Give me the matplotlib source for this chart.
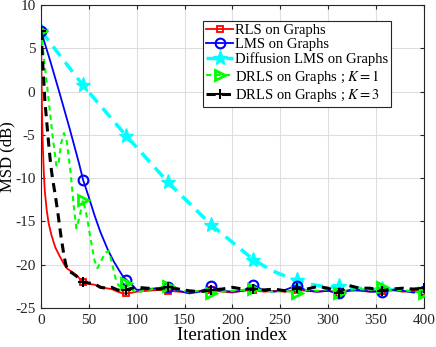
import numpy as np
import matplotlib
matplotlib.use('Agg')
import matplotlib.pyplot as plt

plt.rcParams['font.family'] = ['Liberation Serif', 'DejaVu Serif']
plt.rcParams['mathtext.fontset'] = 'stix'
plt.rcParams['axes.unicode_minus'] = False

# iteration indices where markers are drawn
marks = [0, 44, 89, 133, 178, 222, 267, 311, 356, 400]

# common tail (noise floor) iterations
t_floor = [100, 111, 122, 133, 144, 155, 166, 178, 189, 200, 211, 222, 233, 244,
           255, 267, 278, 289, 300, 311, 322, 333, 344, 356, 367, 378, 389, 400]

# RLS on Graphs
t_rls = [0, 1, 2, 3, 4, 6, 8, 11, 15, 20, 24, 27, 32, 37, 44, 50, 56, 62, 68, 74, 80, 86, 89, 96]
v_rls = [7, -2, -6.5, -9.5, -11.5, -13.7, -15.2, -16.6, -18, -19.1, -19.9, -20.4, -20.8, -21.2,
         -22.0, -22.2, -22.3, -22.5, -22.7, -22.8, -23.1, -23.3, -23.3, -23.2]
f_rls = [-23.1, -23.0, -22.9, -23.0, -23.1, -23.2, -23.0, -22.9, -23.1, -23.2, -23.0, -22.9, -23.1, -23.0,
         -23.1, -22.9, -23.0, -23.1, -23.0, -23.2, -22.9, -23.0, -23.1, -23.0, -22.9, -23.1, -23.0, -23.1]

# LMS on Graphs
t_lms = [0, 10, 20, 30, 40, 44, 50, 56, 62, 70, 76, 82, 86, 89, 96]
v_lms = [7, 3.4, -0.4, -4.3, -8.4, -10.2, -12.2, -14.3, -16.2, -18.3, -19.6, -20.7, -21.4, -21.7, -22.4]
f_lms = [-22.9, -22.8, -22.7, -22.6, -23.0, -23.3, -23.1, -22.5, -23.0, -23.1, -23.0, -22.3, -23.0, -23.1,
         -22.9, -22.4, -23.0, -23.1, -23.0, -23.3, -23.0, -22.9, -23.1, -23.1, -22.9, -23.0, -23.2, -23.0]

# Diffusion LMS on Graphs
t_dif = [0, 44, 89, 133, 178, 222, 240, 255, 267, 280, 290, 300, 311,
         322, 333, 344, 356, 367, 378, 389, 400]
v_dif = [7, 0.7, -5.1, -10.5, -15.4, -19.4, -20.6, -21.3, -21.8, -22.2, -22.4, -22.6, -22.5,
         -22.8, -22.7, -22.9, -22.8, -22.9, -22.7, -23.0, -23.0]

# DRLS on Graphs ; K = 1
t_k1 = [0, 4, 8, 12, 16, 18, 21, 24, 27, 31, 34, 37, 40, 44, 48, 52, 56, 59, 63, 67, 71, 75, 78, 81, 85, 89, 95]
v_k1 = [7, 3, -1, -5, -8.5, -8.6, -6, -4.8, -5.8, -9.4, -13, -15.8, -14.6, -12.5, -14.5, -17.1, -19.5,
        -20.4, -19.5, -18.6, -18.4, -20.2, -21.6, -22.4, -22.5, -22.1, -22.9]
f_k1 = [-23.2, -22.9, -22.7, -22.4, -22.9, -23.1, -23.0, -23.3, -23.1, -23.0, -22.9, -22.8, -23.0, -23.1,
        -23.0, -23.2, -22.9, -23.0, -22.8, -23.2, -22.9, -22.8, -22.9, -22.6, -23.0, -22.9, -23.1, -23.2]

# DRLS on Graphs ; K = 3
t_k3 = [0, 2, 4, 6, 8, 10, 12, 15, 18, 21, 24, 26, 28, 32, 37, 41, 44, 50, 56, 62, 68, 74, 80, 86, 89, 95]
v_k3 = [7, 3, -1, -3.5, -6, -8.3, -10, -12, -14.3, -16.8, -18.9, -20, -20.7, -20.9, -21.3, -21.8, -22.0,
        -22.1, -22.2, -22.6, -22.7, -22.6, -22.9, -23.0, -22.9, -22.7]
f_k3 = [-22.6, -22.7, -22.8, -22.6, -22.8, -23.0, -23.1, -22.9, -22.8, -22.6, -22.8, -22.8, -22.9, -22.8,
        -23.0, -22.7, -22.8, -22.5, -22.7, -23.2, -22.4, -22.7, -22.7, -23.0, -22.8, -22.7, -22.8, -22.7]


def series(t, v, f=None):
    if f is not None:
        t = list(t) + t_floor
        v = list(v) + f
    t = np.array(t, dtype=float)
    v = np.array(v, dtype=float)
    me = [i for i in range(len(t)) if t[i] in marks]
    return t, v, me


fig = plt.figure(figsize=(4.36, 3.47), dpi=100)
ax = fig.add_axes([0.094, 0.112, 0.878, 0.874])

x, y, me = series(t_rls, v_rls, f_rls)
ax.plot(x, y, color='r', lw=1.3, marker='s', ms=4, mfc='none', mew=1.3, markevery=me,
        label='RLS on Graphs', zorder=3)
x, y, me = series(t_lms, v_lms, f_lms)
ax.plot(x, y, color='b', lw=1.3, marker='o', ms=7, mfc='none', mew=1.5, markevery=me,
        label='LMS on Graphs', zorder=3)
x, y, me = series(t_dif, v_dif)
ax.plot(x, y, color='#00ffff', lw=2.5, ls=(0, (3.5, 2.2)), marker='*', ms=11, markevery=me,
        label='Diffusion LMS on Graphs', zorder=2)
x, y, me = series(t_k1, v_k1, f_k1)
ax.plot(x, y, color=(0, 1, 0), lw=1.5, ls=(0, (2.5, 2)), marker='>', ms=7, mfc='none', mew=2,
        markevery=me, label='DRLS on Graphs ; $K=1$', zorder=4)
x, y, me = series(t_k3, v_k3, f_k3)
ax.plot(x, y, color='k', lw=2.2, ls=(0, (3, 2)), marker='+', ms=7, mew=1.5, markevery=me,
        label='DRLS on Graphs ; $K=3$', zorder=5)

ax.set_xlim(0, 400)
ax.set_ylim(-25, 10)
ax.set_xticks(np.arange(0, 401, 50))
ax.set_yticks(np.arange(-25, 11, 5))
ax.grid(True, color='0.87', lw=0.8)
ax.set_axisbelow(True)
ax.tick_params(direction='in', top=True, right=True, labelsize=11, colors='0.15', length=3, pad=4)
for s in ax.spines.values():
    s.set_color('0.15')
    s.set_linewidth(0.8)
ax.set_xlabel('Iteration index', fontsize=13.5, labelpad=0)
ax.set_ylabel('MSD (dB)', fontsize=12)
ax.yaxis.set_label_coords(-0.066, 0.5)

leg = ax.legend(loc='upper right', bbox_to_anchor=(0.914, 0.947), borderaxespad=0, fontsize=10.5,
                handlelength=1.8, handletextpad=0.15, labelspacing=0.08, borderpad=0.2,
                fancybox=False, edgecolor='0.15', framealpha=1)
leg.get_frame().set_linewidth(0.8)

fig.savefig('out.png', dpi=100)
